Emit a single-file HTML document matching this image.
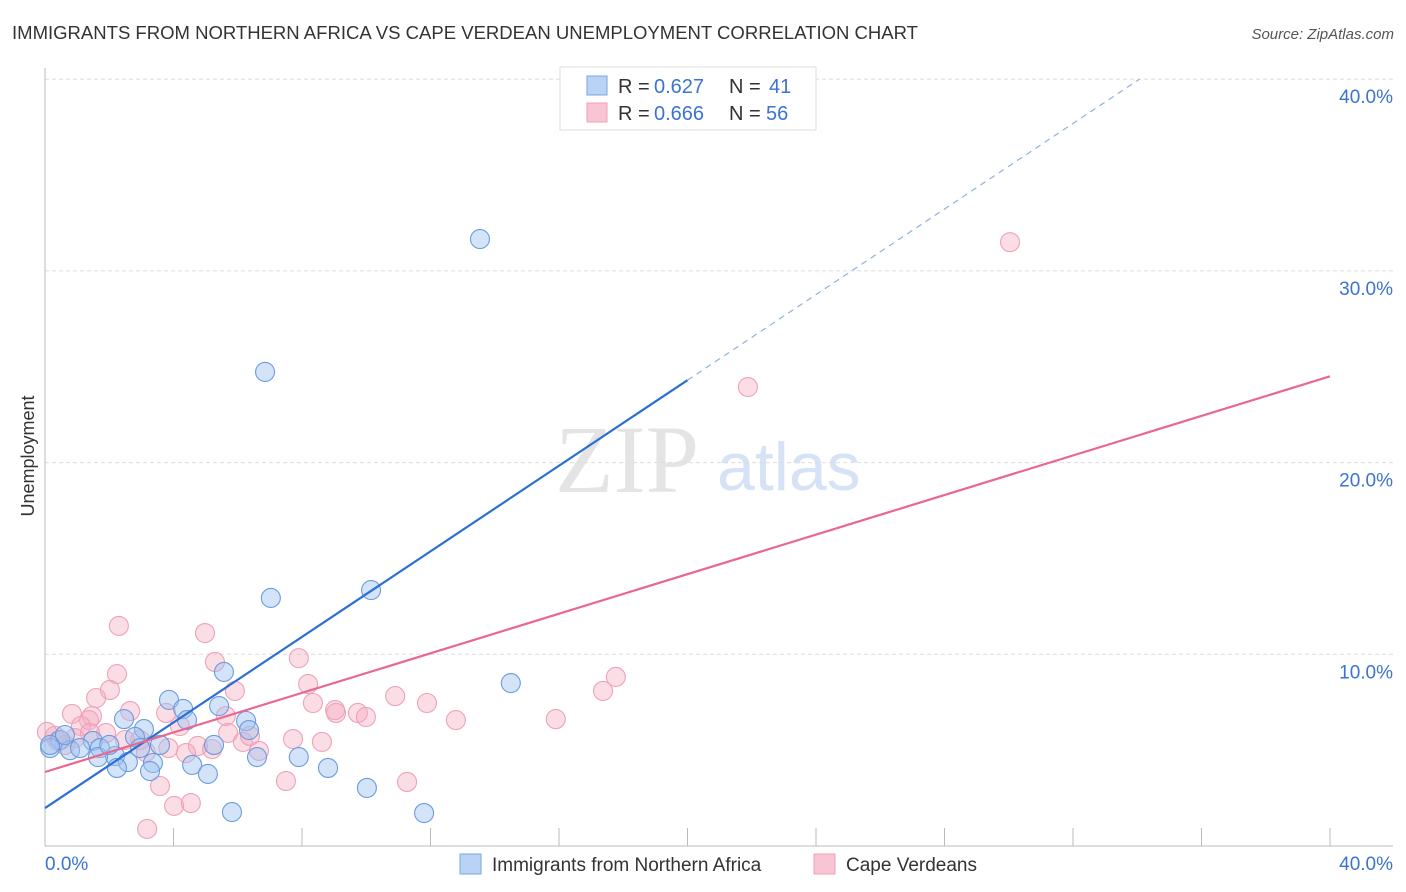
<!DOCTYPE html>
<html><head><meta charset="utf-8"><style>
body{margin:0;background:#fff;font-family:"Liberation Sans",sans-serif}
svg{display:block}
</style></head><body>
<svg id="c" width="1406" height="892">
<text x="12" y="39" font-size="18" fill="#333" textLength="906" lengthAdjust="spacingAndGlyphs">IMMIGRANTS FROM NORTHERN AFRICA VS CAPE VERDEAN UNEMPLOYMENT CORRELATION CHART</text>
<text x="1394" y="39" font-size="15" fill="#555" font-style="italic" text-anchor="end">Source: ZipAtlas.com</text>
<text x="555" y="492" font-size="96" fill="#e4e4e4" font-family="Liberation Serif,serif">ZIP</text>
<text x="717" y="490" font-size="68" fill="#d6e2f5">atlas</text>
<text transform="translate(34,456) rotate(-90)" font-size="18" fill="#333" text-anchor="middle">Unemployment</text>
<g id="grid"></g><g id="pts"></g><g id="lines"></g>
<g>
<rect x="560" y="67" width="256" height="63" fill="#fff" stroke="#ddd"/>
<rect x="587" y="76" width="20" height="19" fill="#b8d3f5" stroke="#7aa6e0"/>
<rect x="587" y="103" width="20" height="19" fill="#f9c4d3" stroke="#eea0b6"/>
<g font-size="20" fill="#333">
<text x="618" y="93">R =</text>
<text x="654" y="93" fill="#3b73d0">0.627</text>
<text x="729" y="93">N =</text>
<text x="769" y="93" fill="#3b73d0">41</text>
<text x="618" y="120">R =</text>
<text x="654" y="120" fill="#3b73d0">0.666</text>
<text x="729" y="120">N =</text>
<text x="766" y="120" fill="#3b73d0">56</text>
</g>
</g>
<rect x="460" y="854" width="21" height="20" fill="#b8d3f5" stroke="#7aa6e0"/>
<text x="492" y="871" font-size="19" fill="#333">Immigrants from Northern Africa</text>
<rect x="814" y="854" width="21" height="20" fill="#f9c4d3" stroke="#eea0b6"/>
<text x="846" y="871" font-size="19" fill="#333">Cape Verdeans</text>
</svg>
<script>
const yTicks=[10,20,30,40];
const yTickLabels=["10.0%","20.0%","30.0%","40.0%"];
const xTicks=[0,4,8,12,16,20,24,28,32,36,40];
const blueX=[13.54,6.85,7.03,10.15,14.5,5.57,3.86,4.3,2.46,5.42,6.26,6.35,3.08,4.42,2.8,1.49,0.47,0.16,0.78,1.09,1.71,2.18,1.65,2.58,3.36,3.27,2.24,4.58,5.07,5.26,6.6,7.9,8.81,5.82,10.02,11.8,0.16,0.62,2.96,2.0,3.58];
const blueY=[31.66,24.73,12.94,13.35,8.5,9.08,7.62,7.15,6.62,7.3,6.52,6.05,6.1,6.57,5.69,5.48,5.53,5.11,5.0,5.11,5.11,4.69,4.64,4.38,4.33,3.91,4.07,4.23,3.76,5.27,4.64,4.64,4.07,1.77,3.03,1.72,5.27,5.79,5.11,5.27,5.27];
const pinkX=[30.04,21.88,17.77,17.37,15.9,2.3,4.98,2.24,5.29,7.9,2.02,1.59,5.91,8.19,10.9,11.89,8.34,9.03,9.06,9.74,9.99,12.79,5.63,3.77,2.65,1.46,0.84,1.37,1.12,1.9,2.49,4.2,6.16,6.66,7.72,8.62,4.76,5.2,3.84,3.14,4.39,0.06,0.4,0.93,0.62,1.4,3.58,7.5,11.27,4.02,4.54,3.18,2.96,0.31,6.38,5.7];
const pinkY=[31.5,23.94,8.82,8.09,6.62,11.48,11.11,8.97,9.6,9.8,8.14,7.72,8.09,8.45,7.82,7.46,7.46,7.09,6.94,6.94,6.73,6.57,6.78,6.94,7.04,6.78,6.89,6.57,6.26,5.89,5.53,6.26,5.43,4.96,5.58,5.43,5.22,5.06,5.11,4.9,4.85,5.95,5.48,5.63,5.27,5.9,3.13,3.39,3.34,2.09,2.24,0.89,5.53,5.74,5.74,5.9];
const blueLine=[1.98,1.116];
const pinkLine=[3.86,0.516];
const NS="http://www.w3.org/2000/svg";
const X=v=>45+v*32.125, Y=v=>846-v*19.17;
function mk(tag,attrs,parent){const e=document.createElementNS(NS,tag);for(const k in attrs)e.setAttribute(k,attrs[k]);document.getElementById(parent).appendChild(e);return e;}
yTicks.forEach((t,i)=>{
 let l=mk('line',{x1:45,x2:1393,y1:Y(t),y2:Y(t),stroke:'#ddd','stroke-dasharray':'4,3'},'grid');
 
 
 let tx=mk('text',{x:1393,y:Y(t)+24,'font-size':19,fill:'#3b73d0','text-anchor':'end'},'grid');tx.textContent=yTickLabels[i];
 
 
});
let ax=mk('line',{x1:45,x2:45,y1:68,y2:846,stroke:'#bbb'},'grid');


let bx=mk('line',{x1:45,x2:1393,y1:846,y2:846,stroke:'#bbb'},'grid');


xTicks.forEach(t=>{let l=mk('line',{x1:X(t),x2:X(t),y1:828,y2:846,stroke:'#bbb'},'grid');
 
 });
let xl=mk('text',{x:45,y:870,'font-size':19,fill:'#3b73d0'},'grid');xl.textContent='0.0%';


let xr=mk('text',{x:1393,y:870,'font-size':19,fill:'#3b73d0','text-anchor':'end'},'grid');xr.textContent='40.0%';


pinkX.forEach((x,i)=>{let c=mk('circle',{cx:X(x),cy:Y(pinkY[i]),r:9.5,fill:'rgba(246,170,192,0.4)',stroke:'#eea2b8','stroke-width':1.1},'pts');
 
 });
blueX.forEach((x,i)=>{let c=mk('circle',{cx:X(x),cy:Y(blueY[i]),r:9.5,fill:'rgba(160,196,240,0.45)',stroke:'#6b9be0','stroke-width':1.1},'pts');
 
 });
const bEnd=20, bDash=(40-blueLine[0])/blueLine[1];
let b1=mk('line',{x1:X(0),y1:Y(blueLine[0]),x2:X(bEnd),y2:Y(blueLine[0]+blueLine[1]*bEnd),stroke:'#2c6fd6','stroke-width':2.2},'lines');


let b2=mk('line',{x1:X(bEnd),y1:Y(blueLine[0]+blueLine[1]*bEnd),x2:X(bDash),y2:Y(40),stroke:'#8fb0e0','stroke-width':1.2,'stroke-dasharray':'6,5'},'lines');


let p1=mk('line',{x1:X(0),y1:Y(pinkLine[0]),x2:X(40),y2:Y(pinkLine[0]+pinkLine[1]*40),stroke:'#e8688f','stroke-width':2.2},'lines');


</script>
</body></html>
